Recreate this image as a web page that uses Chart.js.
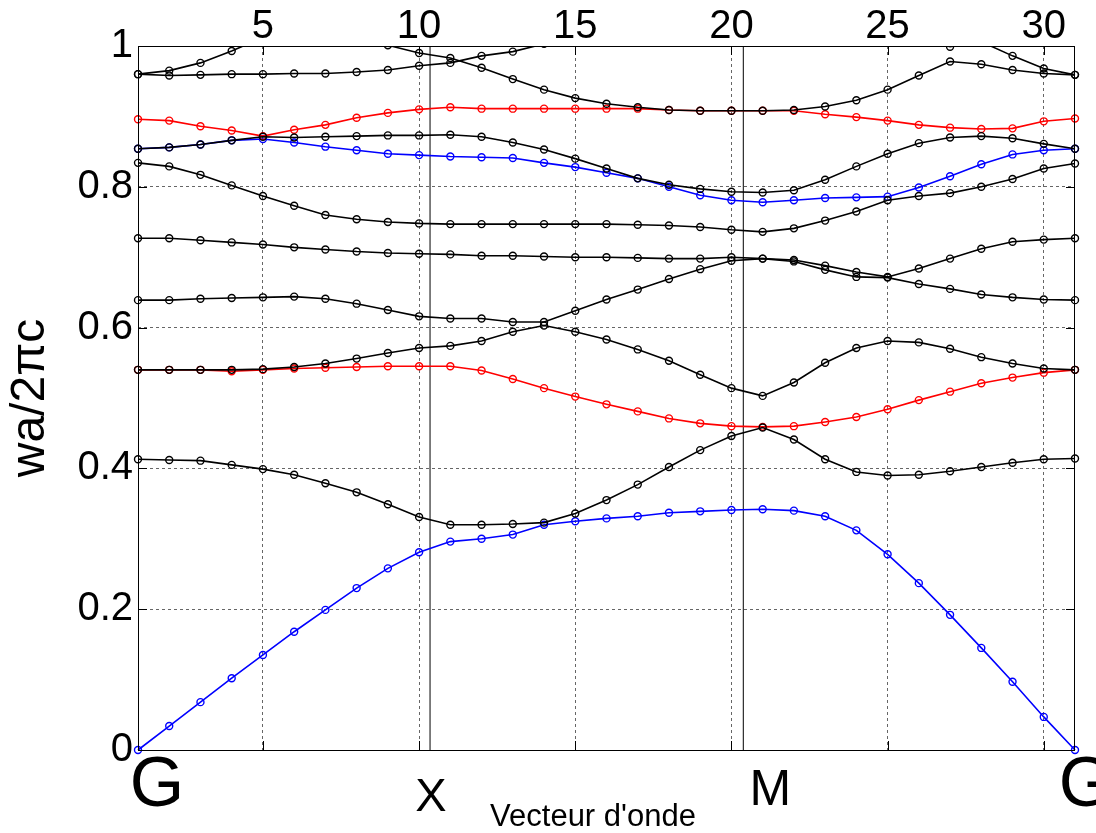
<!DOCTYPE html>
<html>
<head>
<meta charset="utf-8">
<script src="https://cdn.jsdelivr.net/npm/chart.js@4.4.1/dist/chart.umd.min.js"></script>
<style>
  body { margin: 0; background: #fff; }
</style>
</head>
<body>
<canvas id="bandChart" width="1096" height="833"></canvas>
<script>
// wave vector index (points along G-X-M-G)
const kPoints = [1, 2, 3, 4, 5, 6, 7, 8, 9, 10, 11, 12, 13, 14, 15, 16, 17, 18, 19, 20, 21, 22, 23, 24, 25, 26, 27, 28, 29, 30, 31];

// bands (values > 1 are off the top of the plot)
const blueLow  = [0, 0.034, 0.068, 0.102, 0.135, 0.168, 0.199, 0.230, 0.258, 0.281, 0.296, 0.300, 0.306, 0.320, 0.325, 0.329, 0.332, 0.337, 0.339, 0.341, 0.342, 0.340, 0.332, 0.312, 0.278, 0.237, 0.192, 0.145, 0.097, 0.047, 0];
const black2   = [0.413, 0.412, 0.411, 0.405, 0.399, 0.391, 0.379, 0.366, 0.349, 0.331, 0.320, 0.320, 0.321, 0.323, 0.336, 0.355, 0.377, 0.402, 0.426, 0.446, 0.458, 0.441, 0.413, 0.395, 0.390, 0.391, 0.396, 0.402, 0.408, 0.413, 0.414];
const redLow   = [0.540, 0.540, 0.540, 0.538, 0.540, 0.542, 0.543, 0.544, 0.545, 0.545, 0.545, 0.539, 0.527, 0.514, 0.502, 0.491, 0.481, 0.471, 0.464, 0.460, 0.459, 0.460, 0.466, 0.473, 0.484, 0.497, 0.509, 0.521, 0.529, 0.536, 0.540];
const black3   = [0.540, 0.540, 0.540, 0.540, 0.541, 0.544, 0.549, 0.556, 0.564, 0.571, 0.574, 0.581, 0.594, 0.603, 0.594, 0.583, 0.569, 0.553, 0.533, 0.514, 0.503, 0.522, 0.550, 0.571, 0.581, 0.579, 0.570, 0.558, 0.549, 0.542, 0.540];
const black4   = [0.639, 0.639, 0.641, 0.642, 0.643, 0.644, 0.641, 0.634, 0.625, 0.616, 0.613, 0.613, 0.608, 0.608, 0.624, 0.640, 0.654, 0.669, 0.683, 0.695, 0.698, 0.694, 0.682, 0.672, 0.671, 0.662, 0.655, 0.647, 0.643, 0.640, 0.639];
const black5   = [0.727, 0.727, 0.724, 0.721, 0.718, 0.714, 0.711, 0.708, 0.706, 0.705, 0.704, 0.702, 0.702, 0.701, 0.700, 0.700, 0.699, 0.698, 0.698, 0.700, 0.698, 0.696, 0.688, 0.679, 0.672, 0.684, 0.698, 0.712, 0.722, 0.725, 0.727];
const black6   = [0.834, 0.829, 0.817, 0.802, 0.787, 0.773, 0.760, 0.754, 0.750, 0.748, 0.747, 0.747, 0.747, 0.747, 0.747, 0.747, 0.746, 0.745, 0.743, 0.739, 0.736, 0.741, 0.752, 0.765, 0.781, 0.787, 0.791, 0.800, 0.811, 0.826, 0.833];
const blueHigh = [0.854, 0.856, 0.860, 0.866, 0.868, 0.863, 0.857, 0.852, 0.847, 0.845, 0.843, 0.842, 0.841, 0.834, 0.828, 0.820, 0.812, 0.800, 0.788, 0.781, 0.778, 0.781, 0.784, 0.785, 0.786, 0.799, 0.815, 0.832, 0.846, 0.852, 0.854];
const black8   = [0.854, 0.856, 0.860, 0.866, 0.871, 0.870, 0.871, 0.872, 0.873, 0.873, 0.874, 0.871, 0.863, 0.853, 0.840, 0.826, 0.812, 0.803, 0.797, 0.793, 0.792, 0.795, 0.810, 0.829, 0.847, 0.862, 0.870, 0.872, 0.869, 0.861, 0.854];
const redHigh  = [0.896, 0.894, 0.886, 0.880, 0.872, 0.881, 0.888, 0.898, 0.905, 0.910, 0.913, 0.911, 0.911, 0.911, 0.911, 0.911, 0.911, 0.909, 0.908, 0.908, 0.908, 0.908, 0.903, 0.899, 0.894, 0.888, 0.884, 0.882, 0.883, 0.893, 0.897];
const black10  = [0.960, 0.958, 0.959, 0.960, 0.960, 0.961, 0.961, 0.963, 0.966, 0.972, 0.976, 0.986, 0.992, 1.003, 1.02, 1.03, 1.04, 1.05, 1.05, 1.05, 1.05, 1.05, 1.04, 1.03, 1.02, 1.01, 0.999, 1.006, 0.986, 0.968, 0.959];
const black11  = [0.960, 0.965, 0.976, 0.993, 1.012, 1.02, 1.02, 1.012, 1.001, 0.990, 0.983, 0.969, 0.953, 0.938, 0.926, 0.918, 0.913, 0.909, 0.908, 0.908, 0.908, 0.909, 0.914, 0.923, 0.938, 0.958, 0.978, 0.974, 0.966, 0.961, 0.959];

// high symmetry points
const symPoints = [1, 10.35, 20.38, 31];
const symNames = ['G', 'X', 'M', 'G'];

const xTicks = [5, 10, 15, 20, 25, 30];
const yTicks = [0, 0.2, 0.4, 0.6, 0.8, 1];

const FONT = '"Liberation Sans", Arial, Helvetica, sans-serif';

function band(values, color) {
  return {
    data: kPoints.map((k, i) => ({ x: k, y: values[i] })),
    showLine: true,
    borderColor: color,
    borderWidth: 1.6,
    pointStyle: 'circle',
    pointRadius: 3.5,
    pointBorderWidth: 1.4,
    pointBorderColor: color,
    pointBackgroundColor: 'rgba(0,0,0,0)',
    tension: 0,
    clip: { left: 6, top: 0, right: 6, bottom: 6 }
  };
}

function symLine(xv) {
  return {
    data: [{ x: xv, y: 0 }, { x: xv, y: 1 }],
    showLine: true,
    borderColor: '#000',
    borderWidth: 1,
    pointRadius: 0
  };
}

// frame, inward ticks, G/X/M labels, x title
const framePlugin = {
  id: 'frame',
  afterDatasetsDraw(chart) {
    const { ctx, chartArea: a, scales } = chart;
    const x = scales.x, y = scales.y;
    ctx.save();
    ctx.strokeStyle = '#000';
    ctx.lineWidth = 1;
    ctx.strokeRect(a.left + 0.5, a.top + 0.5, a.width - 1, a.height);
    ctx.beginPath();
    xTicks.forEach(v => {
      const px = Math.round(x.getPixelForValue(v)) + 0.5;
      ctx.moveTo(px, a.bottom); ctx.lineTo(px, a.bottom - 9);
      ctx.moveTo(px, a.top); ctx.lineTo(px, a.top + 9);
    });
    yTicks.forEach(v => {
      const py = Math.round(y.getPixelForValue(v)) + 0.5;
      ctx.moveTo(a.left, py); ctx.lineTo(a.left + 9, py);
      ctx.moveTo(a.right, py); ctx.lineTo(a.right - 9, py);
    });
    ctx.stroke();

    ctx.fillStyle = '#000';
    ctx.textAlign = 'center';
    ctx.textBaseline = 'alphabetic';
    const shift = [19, 1, 27, 11];
    const base = [806, 811, 805, 806];
    const size = [70, 47, 50, 70];
    symNames.forEach((t, i) => {
      ctx.font = size[i] + 'px ' + FONT;
      ctx.fillText(t, x.getPixelForValue(symPoints[i]) + shift[i], base[i]);
    });
    ctx.font = '31px ' + FONT;
    ctx.fillText("Vecteur d'onde", 593, 826);
    ctx.restore();
  }
};

const datasets = [
  band(black11, '#000000'),
  band(black10, '#000000'),
  band(black8, '#000000'),
  band(black6, '#000000'),
  band(black5, '#000000'),
  band(black4, '#000000'),
  band(black3, '#000000'),
  band(black2, '#000000'),
  band(redHigh, '#ff0000'),
  band(redLow, '#ff0000'),
  band(blueHigh, '#0000ff'),
  band(blueLow, '#0000ff'),
  symLine(symPoints[1]),
  symLine(symPoints[2])
];

const gridColor = 'rgba(0,0,0,0.6)';

new Chart(document.getElementById('bandChart').getContext('2d'), {
  type: 'scatter',
  data: { datasets },
  plugins: [framePlugin],
  options: {
    responsive: false,
    animation: false,
    layout: { padding: { left: 0, right: 21, top: 0, bottom: 83 } },
    plugins: {
      legend: { display: false },
      tooltip: { enabled: false }
    },
    scales: {
      x: {
        type: 'linear',
        position: 'top',
        min: 1,
        max: 31,
        afterBuildTicks: s => { s.ticks = xTicks.map(v => ({ value: v })); },
        afterFit: s => { s.height = 46; },
        grid: { color: gridColor, lineWidth: 1, drawTicks: false },
        border: { display: false, dash: [3, 3] },
        ticks: {
          color: '#000',
          font: { family: FONT, size: 40 },
          padding: -5,
          maxRotation: 0,
          autoSkip: false
        }
      },
      y: {
        min: 0,
        max: 1,
        afterBuildTicks: s => { s.ticks = yTicks.map(v => ({ value: v })); },
        afterFit: s => { s.width = 138; },
        grid: {
          color: c => (c.tick && (c.tick.value === 0 || c.tick.value === 1)) ? 'rgba(0,0,0,0)' : gridColor,
          lineWidth: 1,
          drawTicks: false
        },
        border: { display: false, dash: [3, 3] },
        ticks: {
          color: '#000',
          font: { family: FONT, size: 40 },
          padding: 5,
          callback: v => String(Math.round(v * 10) / 10)
        },
        title: {
          display: true,
          text: 'wa/2\u03c0c',
          color: '#000',
          font: { family: FONT, size: 48 },
          padding: { top: 2, bottom: 0 }
        }
      }
    }
  }
});
</script>
</body>
</html>
